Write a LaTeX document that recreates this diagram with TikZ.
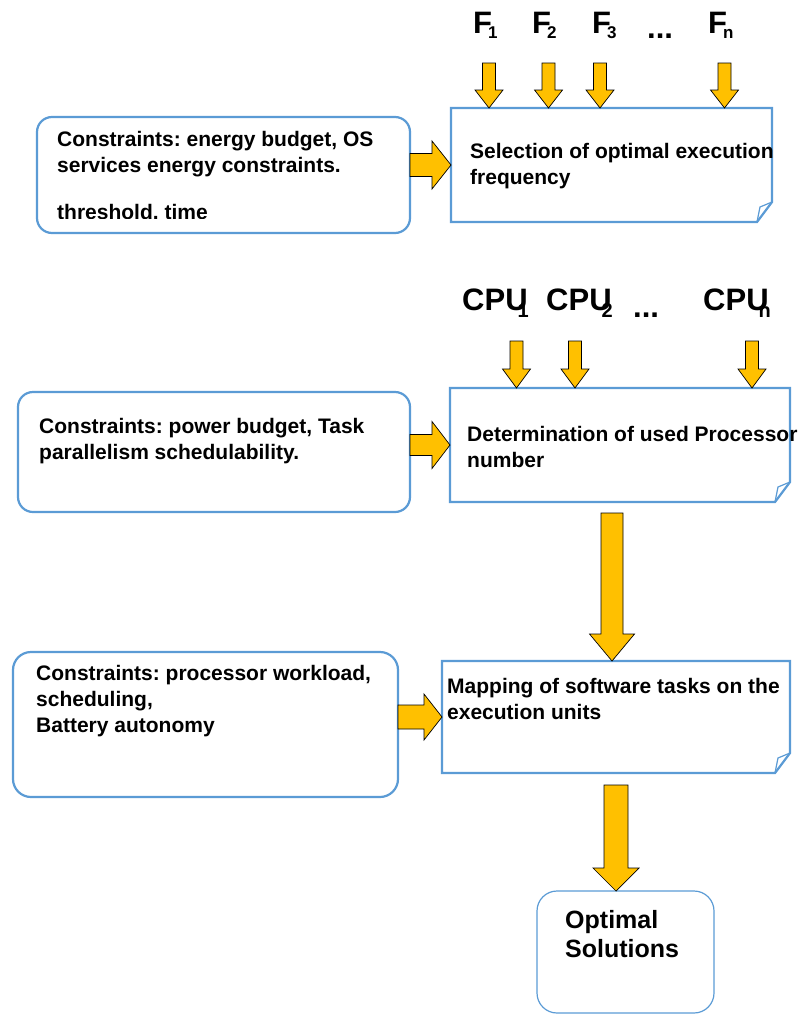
\documentclass[tikz,border=0pt]{standalone}
\usepackage{fontspec}
\setmainfont{Liberation Sans}
\usetikzlibrary{calc}
\definecolor{boxBlue}{HTML}{5B9BD5}
\definecolor{arrowYellow}{HTML}{FFC000}
\frenchspacing

% indices des etiquettes F et CPU
\newcommand{\fIdx}[1]{\kern-4pt\raisebox{-5pt}{\fontsize{17}{17}\selectfont #1}}
\newcommand{\cpuIdx}[1]{\kern-10pt\raisebox{-7pt}{\fontsize{20}{20}\selectfont #1}}
% cadre a coin plie
\newcommand{\noteOutline}[1]{%
	\draw[noteLine] (#1.north west) -- (#1.north east) -- ([yshift=20pt]#1.south east)
		-- ([xshift=-15pt]#1.south east) -- (#1.south west) -- cycle;
	\draw[noteLine, line width=1.2pt] ([xshift=-15pt]#1.south east)
		-- ([xshift=-12pt,yshift=15pt]#1.south east) -- ([yshift=20pt]#1.south east);}

\tikzset{
	boxText/.style={inner sep=0pt, anchor=north west, align=left, font=\fontsize{21}{26}\selectfont\bfseries},
	bigLabel/.style={inner sep=0pt, anchor=base west, font=\fontsize{31}{31}\selectfont\bfseries},
	roundBox/.style={draw=boxBlue, line width=2.2pt, rounded corners=15pt, inner sep=0pt, outer sep=0pt, anchor=north west},
	noteBox/.style={inner sep=0pt, outer sep=0pt, anchor=north west},
	noteLine/.style={draw=boxBlue, line width=2.2pt},
	arrowDown/.style n args={3}{draw=black, line width=0.7pt, fill=arrowYellow,
		to path={let \p1=(\tikztostart), \p2=(\tikztotarget) in
			(\x1-#1pt,\y1) -- (\x1+#1pt,\y1) -- (\x1+#1pt,\y2+#3pt) -- (\x1+#2pt,\y2+#3pt)
			-- (\x1,\y2) -- (\x1-#2pt,\y2+#3pt) -- (\x1-#1pt,\y2+#3pt) -- cycle}},
	arrowRight/.style n args={3}{draw=black, line width=0.7pt, fill=arrowYellow,
		to path={let \p1=(\tikztostart), \p2=(\tikztotarget) in
			(\x1,\y1+#1pt) -- (\x2-#3pt,\y1+#1pt) -- (\x2-#3pt,\y1+#2pt) -- (\x2,\y1)
			-- (\x2-#3pt,\y1-#2pt) -- (\x2-#3pt,\y1-#1pt) -- (\x1,\y1-#1pt) -- cycle}}
}

\begin{document}
\begin{tikzpicture}[x=1pt, y=-1pt]
	\useasboundingbox (0,0) rectangle (804,1015);

	% etape 1 : frequence
	\node[roundBox, minimum width=373pt, minimum height=116pt] (c1) at (37,117) {};
	\begin{scope}
		\clip (0,0) rectangle (804,218.5);
		\node[boxText] (c1Text) at (57,131.5) {Constraints: energy budget, OS\\services energy constraints.\\[21pt]threshold. time};
	\end{scope}
	\node[noteBox, minimum width=321pt, minimum height=114pt] (sel) at (451,108) {};
	\noteOutline{sel}
	\node[boxText] (selText) at (470,142.8) {Selection of optimal execution\\frequency};
	\foreach \i/\lx/\ax in {1/473/489, 2/532/548.5, 3/592/600, n/708/724.5} {
		\node[bigLabel] (f\i) at (\lx,33) {F\fIdx{\i}};
		\coordinate (fa\i) at (\ax,63);
		\draw[arrowDown={6.5}{14}{18}] (fa\i) to (fa\i |- sel.north);
	}
	\node[bigLabel] (fDots) at (647,38) {...};
	\draw[arrowRight={11.5}{24}{19}] (c1.east |- sel.west) to (sel.west);

	% etape 2 : nombre de processeurs
	\node[roundBox, minimum width=392pt, minimum height=120pt] (c2) at (18,392) {};
	\node[boxText] (c2Text) at (39,417.8) {Constraints: power budget, Task\\parallelism schedulability.};
	\node[noteBox, minimum width=340pt, minimum height=114pt] (det) at (450,388) {};
	\noteOutline{det}
	\node[boxText] (detText) at (467,426.5) {Determination of used Processor\\number};
	\foreach \i/\lx/\ax in {1/462/516.5, 2/546/575, n/703/752} {
		\node[bigLabel] (cpu\i) at (\lx,310) {CPU\cpuIdx{\i}};
		\coordinate (ca\i) at (\ax,341);
		\draw[arrowDown={6.5}{14}{19}] (ca\i) to (ca\i |- det.north);
	}
	\node[bigLabel] (cpuDots) at (633,317) {...};
	\draw[arrowRight={10.5}{23.5}{18}] (c2.east |- det.west) to (det.west);

	% etape 3 : placement des taches
	\node[roundBox, rounded corners=18pt, minimum width=385pt, minimum height=145pt] (c3) at (13,652) {};
	\node[boxText] (c3Text) at (36,664.8) {Constraints: processor workload,\\scheduling,\\Battery autonomy};
	\node[noteBox, minimum width=348pt, minimum height=112pt] (map) at (442,661) {};
	\noteOutline{map}
	\node[boxText] (mapText) at (447,678.1) {Mapping of software tasks on the\\execution units};
	\draw[arrowRight={12}{23}{18}] (c3.east |- map.west) to (map.west);
	\draw[arrowDown={11}{22.5}{27}] ($(det.south -| map.north)+(-4,11)$) to ($(map.north)+(-4,0)$);

	% resultat
	\node[roundBox, rounded corners=20pt, line width=1.2pt, minimum width=177pt, minimum height=122pt] (opt) at (537,891) {};
	\node[boxText, font=\fontsize{25}{29}\selectfont\bfseries] (optText) at (565,909.7) {Optimal\\Solutions};
	\draw[arrowDown={12}{23}{23}] ($(map.south)+(0,12)$) to (map.south |- opt.north);
\end{tikzpicture}
\end{document}
